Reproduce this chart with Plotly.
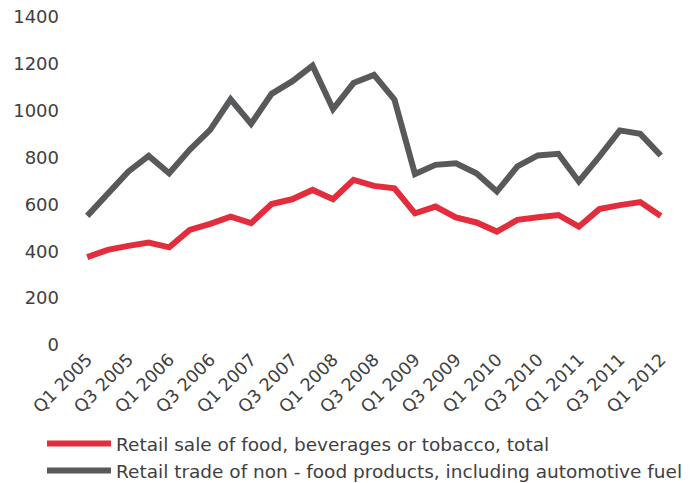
import plotly.graph_objects as go

quarters = []
for yr in range(2005, 2013):
    for q in range(1, 5):
        quarters.append(f"Q{q} {yr}")
quarters = quarters[:29]

food = [375, 406, 423, 437, 417, 491, 517, 548, 520, 602, 622, 662, 622, 705, 679,
        669, 562, 591, 545, 523, 484, 534, 545, 555, 505, 580, 597, 610, 551]
nonfood = [551, 641, 740, 807, 733, 833, 918, 1049, 944, 1072, 1125, 1192, 1007, 1118, 1153,
           1047, 730, 769, 776, 733, 655, 762, 809, 816, 698, 804, 916, 901, 809]

series_names = ["Retail sale of food, beverages or tobacco, total",
                "Retail trade of non - food products, including automotive fuel"]
y_ticks = [0, 200, 400, 600, 800, 1000, 1200, 1400]

FONT = "DejaVu Sans, sans-serif"
W, H = 698, 483
ml, mr, mt, mb = 77, 27, 17, 138

fig = go.Figure()
fig.add_trace(go.Scatter(x=quarters, y=food, mode="lines", name=series_names[0],
                         line=dict(color="#E32D3C", width=6)))
fig.add_trace(go.Scatter(x=quarters, y=nonfood, mode="lines", name=series_names[1],
                         line=dict(color="#58595B", width=6)))

pw = W - ml - mr
ph = H - mt - mb
fig.update_layout(
    width=W, height=H,
    margin=dict(l=ml, r=mr, t=mt, b=mb, autoexpand=False),
    paper_bgcolor="white", plot_bgcolor="white",
    font=dict(family=FONT, size=17, color="#404040"),
    xaxis=dict(type="category", range=[-0.5, 28.5], tickmode="array",
               tickvals=quarters[::2], ticktext=quarters[::2], tickangle=-45,
               showgrid=False, zeroline=False, showline=False, ticks="",
               automargin=False, tickfont=dict(size=17.5, color="#404040")),
    yaxis=dict(range=[0, 1400], tickvals=y_ticks, showgrid=False, zeroline=False,
               showline=False, ticks="", ticklabelstandoff=17, automargin=False,
               tickfont=dict(size=18, color="#404040")),
    legend=dict(orientation="v", x=(42 - ml) / pw, xanchor="left",
                y=(H - 425 - mb) / ph, yanchor="top", bgcolor="rgba(0,0,0,0)",
                font=dict(size=18.5, color="#404040"), itemwidth=64,
                tracegroupgap=0),
    showlegend=True,
)

fig.write_html("out.html")
